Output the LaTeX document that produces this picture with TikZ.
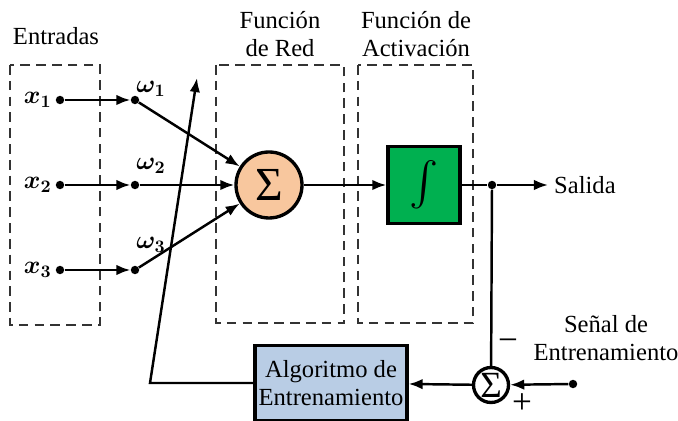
\documentclass[tikz,border=0pt]{standalone}
\usepackage{amsmath}
\usepackage{fontspec}
\usepackage{bm}
\setmainfont{Liberation Serif}
\usetikzlibrary{arrows.meta,positioning}

\definecolor{melocoton}{RGB}{248,199,158}
\definecolor{verdeact}{RGB}{0,176,80}
\definecolor{azulalgo}{RGB}{185,205,229}

\tikzset{
  flecha/.style={line width=1.4pt,-{Latex[length=8pt,width=6pt]}},
  linea/.style={line width=1.4pt},
  grupo/.style={dashed,dash pattern=on 5.5pt off 3.5pt,line width=0.6pt,gray!40!black},
  punto/.style={circle,fill=black,inner sep=0pt,minimum size=4.8pt},
  sumador/.style={circle,draw,line width=1.9pt,inner sep=0pt},
  bloque/.style={draw,line width=1.9pt,inner sep=2pt,align=center},
  signo/.style={inner sep=0pt,font=\fontsize{20}{20}\selectfont},
}

\begin{document}
\begin{tikzpicture}[x=0.02cm,y=-0.02cm,line cap=butt,line join=miter,font=\fontsize{14}{16}\selectfont]
\useasboundingbox (0,0) rectangle (678,421);
% titles of the three stages
\node (entradas) at (56,36) {Entradas};
\node[align=center] (red) at (280,34) {Función\\de Red};
\node[align=center] (activ) at (416,34) {Función de\\Activación};
\draw[grupo] (10,65) rectangle (100,325);
\draw[grupo] (216,65) rectangle (344,323);
\draw[grupo] (358,65) rectangle (473,323);
% summing junction and activation block
\node[sumador,fill=melocoton,minimum size=1.32cm,font=\fontsize{27}{27}\selectfont] (suma) at (269,185) {Σ};
\node[bloque,fill=verdeact,minimum width=1.44cm,minimum height=1.54cm] (activa) at (424,185) {\fontsize{24}{24}\selectfont$\int$};
% inputs and weights
\foreach \i/\y/\ly in {1/100/89,2/185/166,3/270/245}{
  \node[punto] (x\i) at (60,\y) {};
  \node[anchor=east,inner sep=2pt] (lx\i) at (x\i.west) {$\bm{x_{\i}}$};
  \node[punto] (w\i) at (135,\y) {};
  \node[inner sep=1pt] (lw\i) at (151,\ly) {$\bm{\omega_{\i}}$};
  \draw[flecha] (x\i) -- (w\i);
  \draw[flecha] (w\i) -- (suma);
}
\draw[flecha] (suma) -- (activa);
% output
\node[punto] (nudo) at (492,185) {};
\node[anchor=west] (salida) at (548,185) {Salida};
\draw[linea] (activa) -- (nudo);
\draw[flecha] (nudo) -- (salida.west);
% training loop
\node[sumador,fill=white,minimum size=0.7cm,font=\fontsize{21}{21}\selectfont] (error) at (491,385) {Σ};
\node[bloque,fill=azulalgo,minimum width=3.02cm,minimum height=1.5cm] (algo) at (331,383) {Algoritmo de\\Entrenamiento};
\node[punto] (dsenal) at (573,384) {};
\node[align=center] (senal) at (606,338) {Señal de\\Entrenamiento};
\node[signo] (menos) at (508,345) {−};
\node[signo] (mas) at (522,404) {+};
\draw[linea] (nudo) -- (error);
\draw[flecha] (dsenal) -- (error);
\draw[flecha] (error) -- (algo);
\coordinate (pie) at (150,383);
\coordinate (punta) at (197,78);
\draw[flecha] (algo.west) -- (pie) -- (punta);
\end{tikzpicture}
\end{document}
